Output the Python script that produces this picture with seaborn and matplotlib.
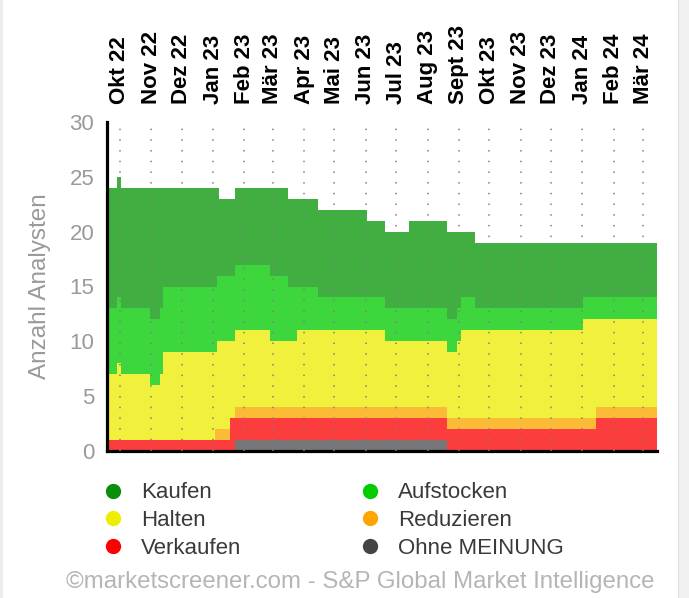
import pandas as pd
import seaborn as sns
import matplotlib.pyplot as plt
from matplotlib.lines import Line2D
from matplotlib.patches import Rectangle

# Änderungsdaten und Anzahl der Analysten je Empfehlung (Treppenverlauf)
dates = ['2022-09-18', '2022-09-28', '2022-10-02', '2022-10-31', '2022-11-10', '2022-11-13',
         '2023-01-03', '2023-01-05', '2023-01-07', '2023-01-18', '2023-01-23', '2023-02-26',
         '2023-03-16', '2023-03-25', '2023-04-15', '2023-06-02', '2023-06-20', '2023-07-14',
         '2023-08-20', '2023-08-30', '2023-09-03', '2023-09-17', '2024-01-02', '2024-01-15']
end_date = '2024-03-15'

ohne = [0, 0, 0, 0, 0, 0, 0, 0, 0, 0, 1, 1, 1, 1, 1, 1, 1, 1, 0, 0, 0, 0, 0, 0]
verkaufen = [1, 1, 1, 1, 1, 1, 1, 1, 1, 3, 2, 2, 2, 2, 2, 2, 2, 2, 2, 2, 2, 2, 2, 3]
reduzieren = [0, 0, 0, 0, 0, 0, 1, 1, 1, 0, 1, 1, 1, 1, 1, 1, 1, 1, 1, 1, 1, 1, 1, 1]
halten = [6, 7, 6, 5, 6, 8, 7, 8, 8, 7, 7, 6, 6, 7, 7, 7, 6, 6, 6, 7, 8, 8, 9, 8]
aufstocken = [6, 6, 6, 6, 6, 6, 6, 6, 6, 6, 6, 6, 5, 4, 3, 3, 3, 3, 3, 3, 3, 2, 2, 2]
kaufen = [11, 11, 11, 12, 11, 9, 9, 8, 7, 7, 7, 8, 8, 8, 8, 7, 7, 8, 8, 7, 6, 6, 5, 5]

month_labels = ['Okt 22', 'Nov 22', 'Dez 22', 'Jan 23', 'Feb 23', 'Mär 23', 'Apr 23', 'Mai 23',
                'Jun 23', 'Jul 23', 'Aug 23', 'Sept 23', 'Okt 23', 'Nov 23', 'Dez 23', 'Jan 24',
                'Feb 24', 'Mär 24']

series = ['Ohne MEINUNG', 'Verkaufen', 'Reduzieren', 'Halten', 'Aufstocken', 'Kaufen']
fill_colors = ['#777777', '#fc3d3d', '#fbbb37', '#f1f13d', '#3dd63d', '#40ae40']
legend_colors = {'Kaufen': '#0a8f0a', 'Aufstocken': '#00cc00', 'Halten': '#eeee00',
                 'Reduzieren': '#ffa500', 'Verkaufen': '#ff0000', 'Ohne MEINUNG': '#444444'}

df = pd.DataFrame({'datum': pd.to_datetime(dates), 'Ohne MEINUNG': ohne, 'Verkaufen': verkaufen,
                   'Reduzieren': reduzieren, 'Halten': halten, 'Aufstocken': aufstocken,
                   'Kaufen': kaufen})
# letzten Wert bis zum Ende fortschreiben
last = df.iloc[[-1]].copy()
last['datum'] = pd.to_datetime(end_date)
df = pd.concat([df, last], ignore_index=True)

sns.set_style("white")
plt.rcParams['font.family'] = ['Liberation Sans', 'DejaVu Sans']

fig = plt.figure(figsize=(6.89, 5.98), dpi=100)
ax = fig.add_axes([106.8 / 689, 1 - 451 / 598, 550.4 / 689, 329 / 598])

ax.stackplot(df['datum'], *[df[s] for s in series], colors=fill_colors,
             step='post', linewidth=0)

ax.set_xlim(pd.Timestamp(dates[0]), pd.Timestamp(end_date))
ax.set_ylim(0, 30)
ax.set_yticks(range(0, 31, 5))

# Monatsbeschriftung oben
months = pd.date_range('2022-10-01', '2024-03-01', freq='MS')
ax.set_xticks(months)
ax.set_xticklabels(month_labels, rotation=90, fontweight='bold')
ax.xaxis.tick_top()
ax.tick_params(axis='x', length=0, pad=13, labelsize=16, labelcolor='black')
ax.tick_params(axis='y', length=0, pad=9, labelsize=16, labelcolor='#9a9a9a')
ax.grid(axis='x', color='#808080', linestyle=(0, (1, 6)), linewidth=1.1)
ax.grid(axis='y', visible=False)
ax.set_axisbelow(False)

ax.set_ylabel('Anzahl Analysten', fontsize=17.5, color='#9a9a9a', va='center')
ax.yaxis.set_label_coords(-0.122, 0.5)

sns.despine(ax=ax, top=True, right=True)
for side in ['left', 'bottom']:
    ax.spines[side].set_color('black')
    ax.spines[side].set_linewidth(2.3)

# Legende in zwei Spalten
order = ['Kaufen', 'Halten', 'Verkaufen', 'Aufstocken', 'Reduzieren', 'Ohne MEINUNG']
handles = [Line2D([], [], marker='o', linestyle='', markersize=10,
                  color=legend_colors[n], label=n) for n in order]
fig.legend(handles=handles, ncol=2, loc='upper left',
           bbox_to_anchor=(101.9 / 689, 1 - 482.5 / 598), frameon=False,
           fontsize=16, handlelength=1.0, handletextpad=0.75, columnspacing=5.3,
           labelspacing=0.3, borderpad=0, borderaxespad=0, labelcolor='#3a3a3a')

fig.text(655 / 689, 1 - 582 / 598, '©marketscreener.com - S&P Global Market Intelligence',
         ha='right', va='center', fontsize=17.3, color='#b5b5b5')

# grauer Rand des Screenshots
fig.patches.append(Rectangle((678 / 689, 0), 11 / 689, 1, transform=fig.transFigure,
                             facecolor='#f0f0f0', edgecolor='none'))
fig.patches.append(Rectangle((678 / 689, 0), 1 / 689, 1, transform=fig.transFigure,
                             facecolor='#dcdcdc', edgecolor='none'))
fig.patches.append(Rectangle((0, 0), 3 / 689, 1, transform=fig.transFigure,
                             facecolor='#ececec', edgecolor='none'))

fig.savefig('out.png', dpi=100)
